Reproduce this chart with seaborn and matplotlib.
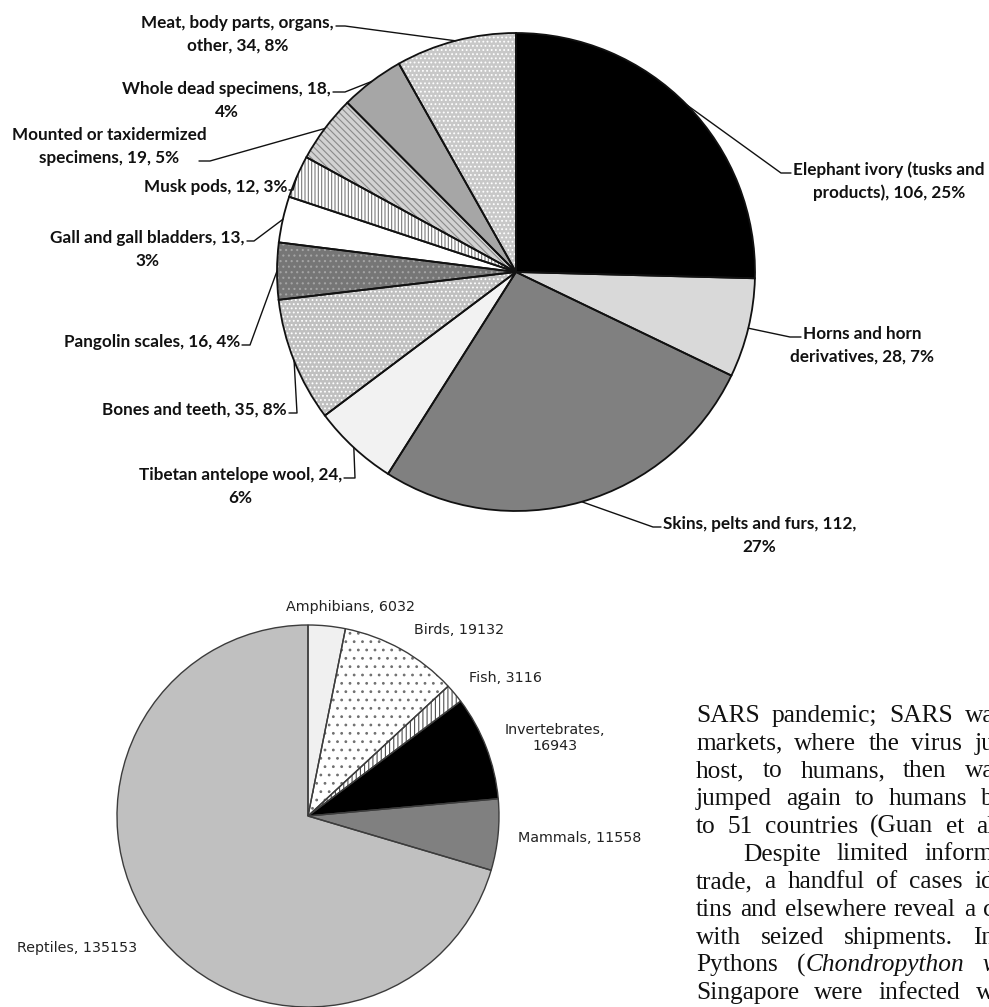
import matplotlib
matplotlib.use('Agg')
import matplotlib.pyplot as plt
import numpy as np
import seaborn as sns

sns.set_theme(style='white')
plt.rcParams['hatch.linewidth'] = 0.8

W, H = 989, 1007

# top pie: seized wildlife products (count per category)
PRODUCT_NAMES = ['Elephant ivory (tusks and products)', 'Horns and horn derivatives',
                 'Skins, pelts and furs', 'Tibetan antelope wool', 'Bones and teeth',
                 'Pangolin scales', 'Gall and gall bladders', 'Musk pods',
                 'Mounted or taxidermized specimens', 'Whole dead specimens',
                 'Meat, body parts, organs, other']
PRODUCT_COUNTS = [106, 28, 112, 24, 35, 16, 13, 12, 19, 18, 34]
PRODUCT_FIRST_LINE_WORDS = [4, 3, 5, 4, 0, 0, 5, 0, 3, 4, 4]

# bottom pie: live animals seized, by class
CLASS_NAMES = ['Amphibians', 'Birds', 'Fish', 'Invertebrates', 'Mammals', 'Reptiles']
CLASS_COUNTS = [6032, 19132, 3116, 16943, 11558, 135153]
CLASS_BREAK = [False, False, False, True, False, False]

# running text beside the lower chart (cut off at the page edge)
BODY_LINES = ['SARS pandemic; SARS wa',
              'markets, where the virus ju',
              'host, to humans, then wa',
              'jumped again to humans b',
              'to 51 countries (Guan et al',
              'Despite limited inform',
              'trade, a handful of cases id',
              'tins and elsewhere reveal a c',
              'with seized shipments. In',
              'Pythons (_Chondropython_ _v_',
              'Singapore were infected w']

# ---- styling / layout (pixels from top-left) ----
TOP_CENTER, TOP_RADIUS = (516, 272), 239
TOP_FILLS = ['#000000', '#d9d9d9', '#808080', '#f2f2f2', '#c0c0c0', '#767676',
             '#ffffff', '#ffffff', '#d2d2d2', '#a6a6a6', '#c8c8c8']
TOP_HATCH = [None, None, None, None, '....', '...', None, '|||||', '\\\\\\\\\\', None, '....']
TOP_HATCH_COLOR = ['none', 'none', 'none', 'none', 'white', '#a4a4a4', 'none',
                   '#7a7a7a', '#8a8a8a', 'none', 'white']
# elbow point, line end, side of text, which text line the leader touches, gap to text
TOP_LEADERS = [((781, 173), (791, 173), 'right', 0, 2),
               ((790, 337), (801, 337), 'right', 0, 2),
               ((653, 527), (661, 527), 'right', 0, 2),
               ((355, 478), (344, 478), 'left', 0, 2),
               ((297, 413), (289, 413), 'left', 0, 2),
               ((250, 345), (242, 345), 'left', 0, 2),
               ((254, 241), (247, 241), 'left', 0, 2),
               ((293, 190), (289, 190), 'left', 0, 2),
               ((210, 161), (199, 161), 'left', 1, 20),
               ((345, 92), (333, 92), 'left', 0, 2),
               ((345, 26), (336, 26), 'left', 0, 2)]

BOT_CENTER, BOT_RADIUS = (308, 816), 191
BOT_FILLS = ['#f0f0f0', '#ffffff', '#ffffff', '#000000', '#808080', '#c0c0c0']
BOT_HATCH = [None, '..', '||||', None, None, None]
BOT_HATCH_COLOR = ['none', '#707070', '#505050', 'none', 'none', 'none']
BOT_LABEL_POS = [(350, 607), (459, 630), (505, 678), (555, 738), (580, 838), (77, 948)]

BODY_X, BODY_INDENT_X = 696, 743
BODY_RIGHT_X = 994   # the column runs on past the page edge
BODY_BASE_Y, BODY_STEP = 722, 27.7

LABEL_FONT = dict(family=['Lato', 'DejaVu Sans'], fontweight='bold', fontsize=12.3, color='#111111')
BOT_FONT = dict(family=['DejaVu Sans'], fontsize=10.3, color='#222222')
BODY_FONT = dict(family=['Liberation Serif', 'DejaVu Serif'], fontsize=18.3, color='#111111')


def fy(y):
    return H - y


def draw_pie(ax, values, center, radius, fills, hatches, hatch_colors, edge, lw):
    common = dict(startangle=90, counterclock=False,
                  center=(center[0], fy(center[1])), radius=radius)
    ax.pie(values, colors=fills, wedgeprops=dict(linewidth=0), **common)
    wedges, _ = ax.pie(values, colors=['none'] * len(values), wedgeprops=dict(linewidth=0), **common)
    for w, h, c in zip(wedges, hatches, hatch_colors):
        if h:
            w.set_hatch(h)
            w.set_edgecolor(c)
        else:
            w.set_visible(False)
    ax.pie(values, colors=['none'] * len(values),
           wedgeprops=dict(linewidth=lw, edgecolor=edge), **common)


def mid_points(values, center, radius):
    vals = np.asarray(values, dtype=float)
    theta = np.deg2rad(360 * (np.cumsum(vals) - vals / 2) / vals.sum())
    return center[0] + radius * np.sin(theta), center[1] - radius * np.cos(theta)


def text_width(ax, renderer, s, **kw):
    t = ax.text(0, 0, s, **kw)
    w = t.get_window_extent(renderer).width
    t.remove()
    return w


fig = plt.figure(figsize=(W / 100, H / 100), dpi=100)
ax = fig.add_axes([0, 0, 1, 1])
renderer = fig.canvas.get_renderer()

draw_pie(ax, PRODUCT_COUNTS, TOP_CENTER, TOP_RADIUS, TOP_FILLS, TOP_HATCH,
         TOP_HATCH_COLOR, '#111111', 1.3)
draw_pie(ax, CLASS_COUNTS, BOT_CENTER, BOT_RADIUS, BOT_FILLS, BOT_HATCH,
         BOT_HATCH_COLOR, '#3c3c3c', 1.0)

# top labels with leader lines
total = sum(PRODUCT_COUNTS)
px, py = mid_points(PRODUCT_COUNTS, TOP_CENTER, TOP_RADIUS)
for i, (name, v, nfirst) in enumerate(zip(PRODUCT_NAMES, PRODUCT_COUNTS, PRODUCT_FIRST_LINE_WORDS)):
    words = f'{name}, {v}, {round(100 * v / total)}%'.split(' ')
    lines = [' '.join(words)] if nfirst == 0 else [' '.join(words[:nfirst]), ' '.join(words[nfirst:])]
    (ex, ey), (tx, ty), side, attach, pad = TOP_LEADERS[i]
    ax.plot([px[i], ex, tx], [fy(py[i]), fy(ey), fy(ty)], color='#111111', lw=1.0)
    wa = text_width(ax, renderer, lines[attach], **LABEL_FONT)
    xc = tx + pad + wa / 2 if side == 'right' else tx - pad - wa / 2
    y0 = ty - 3 - 23 * attach
    for k, line in enumerate(lines):
        ax.text(xc, fy(y0 + 23 * k), line, ha='center', va='center', **LABEL_FONT)

# bottom labels
for name, v, brk, (x, y) in zip(CLASS_NAMES, CLASS_COUNTS, CLASS_BREAK, BOT_LABEL_POS):
    sep = ',\n' if brk else ', '
    ax.text(x, fy(y), f'{name}{sep}{v}', ha='center', va='center',
            multialignment='center', linespacing=1.2, **BOT_FONT)

# justified body text
for i, line in enumerate(BODY_LINES):
    words = line.split(' ')
    x0 = BODY_INDENT_X if i == 5 else BODY_X
    y = fy(BODY_BASE_Y + BODY_STEP * i)
    pieces = []
    for w in words:
        segs = [(s, k % 2 == 1) for k, s in enumerate(w.split('_')) if s]
        pieces.append(segs)
    widths = [sum(text_width(ax, renderer, s, style='italic' if it else 'normal', **BODY_FONT)
                  for s, it in segs) for segs in pieces]
    gap = (BODY_RIGHT_X - x0 - sum(widths)) / max(len(words) - 1, 1)
    gap = max(gap, 4)
    x = x0
    for segs, wdt in zip(pieces, widths):
        xx = x
        for s, it in segs:
            ax.text(xx, y, s, ha='left', va='baseline', style='italic' if it else 'normal', **BODY_FONT)
            xx += text_width(ax, renderer, s, style='italic' if it else 'normal', **BODY_FONT)
        x += wdt + gap

ax.set_xlim(0, W)
ax.set_ylim(0, H)
ax.set_aspect('auto')
ax.axis('off')
fig.savefig('out.png', dpi=100)
